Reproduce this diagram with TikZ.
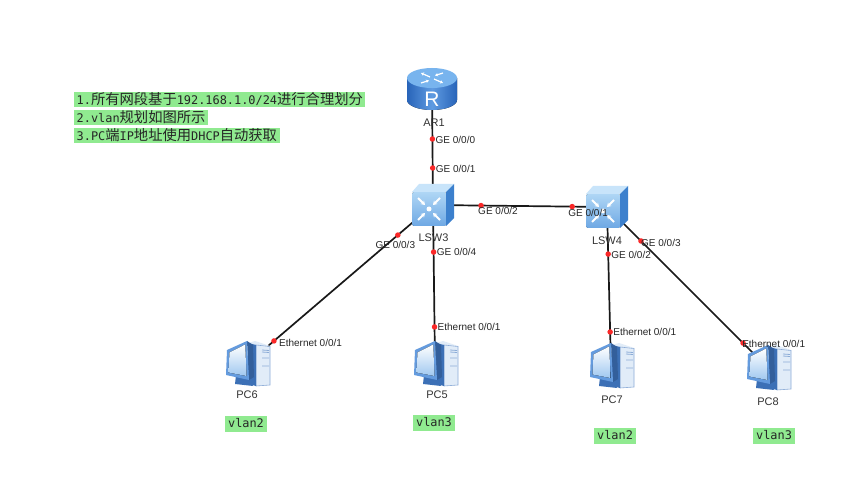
\documentclass[tikz,border=0pt]{standalone}
\usepackage{fontspec}
\setmainfont{Liberation Sans}
\setmonofont{DejaVu Sans Mono}
\newfontfamily\zhfont{Noto Sans CJK SC}
\usetikzlibrary{arrows.meta,calc}
\definecolor{notegreen}{RGB}{144,234,144}
\definecolor{portred}{RGB}{250,40,40}
\definecolor{rtdark}{RGB}{40,100,185}
\definecolor{rtmid}{RGB}{95,155,225}
\definecolor{rttop}{RGB}{120,180,238}
\definecolor{swfronttop}{RGB}{175,214,245}
\definecolor{swfrontbot}{RGB}{110,168,228}
\definecolor{swtop}{RGB}{200,228,250}
\definecolor{swside}{RGB}{60,128,205}
\definecolor{pcmid}{RGB}{100,155,222}
\definecolor{pcdark}{RGB}{60,112,182}
\definecolor{pclight}{RGB}{225,236,248}
\definecolor{pcedge}{RGB}{140,172,215}
\definecolor{pcscreen}{RGB}{160,200,240}
\newcommand\myzh[1]{{\zhfont\fontsize{14.3}{15}\selectfont #1}}
\newcommand\myen[1]{{\ttfamily\fontsize{11.9}{15}\selectfont #1}}
\tikzset{
  link/.style={draw=black!90, line width=1.7pt},
  port/.style={circle, fill=portred, draw=none, inner sep=0pt, minimum size=5.5pt},
  lbl/.style={font=\fontsize{10}{10}\selectfont, inner sep=0pt, text=black!85},
  devname/.style={font=\fontsize{11}{12}\selectfont, inner sep=0pt, text=black!80},
  note/.style={fill=notegreen, inner xsep=2.5pt, inner ysep=0.5pt, text height=11.5pt, text depth=2.5pt, anchor=west, text=black!85},
  vlanbox/.style={fill=notegreen, font=\ttfamily\fontsize{11.9}{14}\selectfont, inner xsep=3.5pt, inner ysep=1pt, text height=11pt, text depth=3.5pt, text=black!85},
  pics/router/.style={code={
    \fill[left color=rtdark, right color=rtdark, middle color=rtmid]
      (-25,-11) -- (-25,11) arc[start angle=180,end angle=0,x radius=25,y radius=10] -- (25,-11) -- cycle;
    \fill[rttop] (0,-11) ellipse[x radius=25, y radius=10];
    \begin{scope}[white, line width=1.2pt, -{Stealth[length=3pt,width=3.5pt]}]
      \draw (-2,-12) -- (-11,-16);
      \draw (2,-10) -- (11,-6);
      \draw (11,-16) -- (3,-13.5);
      \draw (-11,-6) -- (-3,-8.5);
    \end{scope}
    \node[white, inner sep=0pt, font=\fontsize{21}{21}\selectfont] at (0,10.5) {R};
  }},
  pics/switch/.style={code={
    \fill[top color=swfronttop, bottom color=swfrontbot, rounded corners=1.5pt] (-21,-13) rectangle (13,21);
    \fill[swtop] (-21,-13) -- (-14,-21) -- (21,-21) -- (13,-13) -- cycle;
    \fill[swside] (13,-13) -- (21,-21) -- (21,13) -- (13,21) -- cycle;
    \begin{scope}[white, line width=1.8pt, -{Stealth[length=4pt,width=5pt]}]
      \draw (-15,-7) -- (-8,0);
      \draw (7,-7) -- (0,0);
      \draw (-15,15) -- (-8,8);
      \draw (7,15) -- (0,8);
    \end{scope}
    \fill[white] (-4,4) circle[radius=2.5];
  }},
  pics/pc/.style={code={
    \fill[pclight] (1,-21) -- (8,-23) -- (23,-18) -- (9,-19) -- cycle;
    \fill[pclight, draw=pcedge, line width=0.6pt] (9,-19) -- (23,-17.5) -- (23,21) -- (9,22) -- cycle;
    \draw[pcedge, line width=0.8pt] (15,-14) -- (22,-13.5) (15,-12) -- (22,-11.5) (15,-6) -- (22,-6) (15,2) -- (22,2);
    \fill[pcdark] (1,-21) -- (9,-19) -- (9,22) -- (1,20) -- cycle;
    \fill[pcdark] (-11,11) -- (2,14) -- (6,22) -- (-12,20) -- cycle;
    \fill[pcdark!85!black] (0,-23) -- (6,-19) -- (7,13) -- (2,16) -- cycle;
    \fill[pcmid] (-20,-14) -- (0,-23) -- (2,16) -- (-21,11) -- cycle;
    \fill[top color=white, bottom color=pcscreen] (-17.5,-11.5) -- (-1.8,-19.5) -- (-0.5,12) -- (-18.5,8.5) -- cycle;
  }}
}
\begin{document}
\begin{tikzpicture}[x=1pt,y=-1pt]
\useasboundingbox (0,0) rectangle (865,494);
\fill[white] (0,0) rectangle (865,494);

% devices (positions)
\coordinate (ar1) at (432,89);
\coordinate (lsw3) at (433,205);
\coordinate (lsw4) at (607,207);
\coordinate (pc6) at (247,364);
\coordinate (pc5) at (435,364);
\coordinate (pc7) at (611,366);
\coordinate (pc8) at (768,368);

% links with port dots
\draw[link] (ar1) -- (lsw3) node[pos=0.431, port] (p1) {} node[pos=0.681, port] (p2) {};
\draw[link] (lsw3) -- (lsw4) node[pos=0.276, port] (p3) {} node[pos=0.8, port] (p4) {};
\draw[link] (lsw3) -- (pc6) node[pos=0.189, port] (p5) {} node[pos=0.855, port] (p6) {};
\draw[link] (lsw3) -- (pc5) node[pos=0.296, port] (p7) {} node[pos=0.767, port] (p8) {};
\draw[link] (lsw4) -- (pc7) node[pos=0.296, port] (p9) {} node[pos=0.786, port] (p10) {};
\draw[link] (lsw4) -- (pc8) node[pos=0.211, port] (p11) {} node[pos=0.845, port] (p12) {};

% icons
\pic at (ar1) {router};
\pic at (lsw3) {switch};
\pic at (lsw4) {switch};
\pic at (pc6) {pc};
\pic at (pc5) {pc};
\pic at (pc7) {pc};
\pic at (pc8) {pc};

% port labels
\node[lbl, anchor=west] (l1) at ($(p1)+(3,1)$) {GE 0/0/0};
\node[lbl, anchor=west] (l2) at ($(p2)+(3,1)$) {GE 0/0/1};
\node[lbl, anchor=west] (l3) at ($(p3)+(-3,5.5)$) {GE 0/0/2};
\node[lbl, anchor=west] (l4) at ($(p4)+(-4,6)$) {GE 0/0/1};
\node[lbl] (l5) at ($(p5)+(-2.5,10)$) {GE 0/0/3};
\node[lbl, anchor=west] (l6) at ($(p6)+(5,2)$) {Ethernet 0/0/1};
\node[lbl, anchor=west] (l7) at ($(p7)+(3,0)$) {GE 0/0/4};
\node[lbl, anchor=west] (l8) at ($(p8)+(3,0)$) {Ethernet 0/0/1};
\node[lbl, anchor=west] (l9) at ($(p9)+(3,1)$) {GE 0/0/2};
\node[lbl, anchor=west] (l10) at ($(p10)+(3,0)$) {Ethernet 0/0/1};
\node[lbl, anchor=west] (l11) at ($(p11)+(0,2)$) {GE 0/0/3};
\node[lbl, anchor=west] (l12) at ($(p12)+(-1,1)$) {Ethernet 0/0/1};

% device names
\node[devname] (nar1) at (434,123) {AR1};
\node[devname] (nlsw3) at (433.5,238) {LSW3};
\node[devname] (nlsw4) at (607,241) {LSW4};
\node[devname] (npc6) at (247,395) {PC6};
\node[devname] (npc5) at (437,395) {PC5};
\node[devname] (npc7) at (612,400) {PC7};
\node[devname] (npc8) at (768,402) {PC8};

% notes
\node[note] (n1) at (74,100) {\myen{1.}\myzh{所有网段基于}\myen{192.168.1.0/24}\myzh{进行合理划分}};
\node[note] (n2) at (74,118) {\myen{2.vlan}\myzh{规划如图所示}};
\node[note] (n3) at (74,136) {\myen{3.PC}\myzh{端}\myen{IP}\myzh{地址使用}\myen{DHCP}\myzh{自动获取}};

% vlan tags
\node[vlanbox] (v6) at (246,424) {vlan2};
\node[vlanbox] (v5) at (434,423) {vlan3};
\node[vlanbox] (v7) at (615,436) {vlan2};
\node[vlanbox] (v8) at (774,436) {vlan3};
\end{tikzpicture}
\end{document}
